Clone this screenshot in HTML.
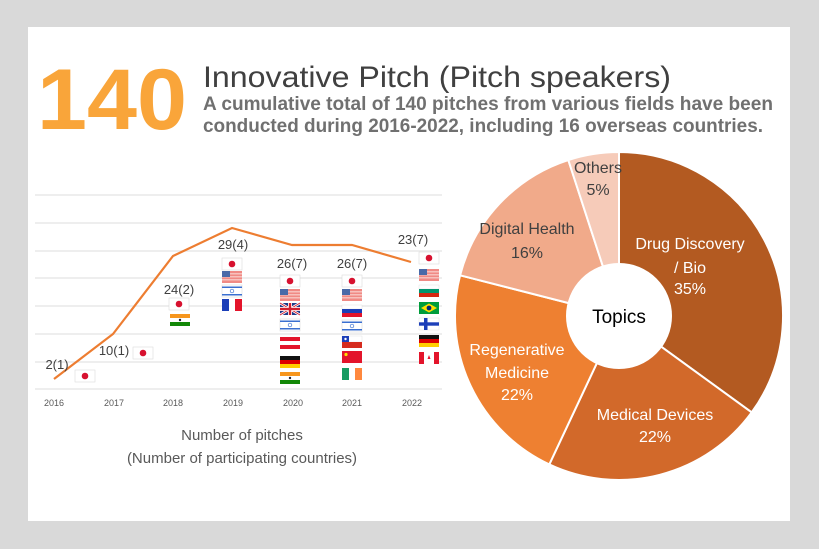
<!DOCTYPE html>
<html><head><meta charset="utf-8"><style>
html,body{margin:0;padding:0;background:#d9d9d9;}
svg{display:block;}
text{font-family:"Liberation Sans",sans-serif;}
</style></head><body>
<svg width="819" height="549" viewBox="0 0 819 549" xmlns="http://www.w3.org/2000/svg">
<rect x="0" y="0" width="819" height="549" fill="#d9d9d9"/>
<rect x="28" y="27" width="762" height="494" fill="#ffffff"/>
<text x="37" y="129" font-size="86" font-weight="bold" fill="#f9a53a" textLength="150" lengthAdjust="spacingAndGlyphs">140</text>
<text x="203" y="87" font-size="30" fill="#404040" textLength="468" lengthAdjust="spacingAndGlyphs">Innovative Pitch (Pitch speakers)</text>
<text x="203" y="110" font-size="19" font-weight="bold" fill="#707070" textLength="570" lengthAdjust="spacingAndGlyphs">A cumulative total of 140 pitches from various fields have been</text>
<text x="203" y="132" font-size="19" font-weight="bold" fill="#707070" textLength="560" lengthAdjust="spacingAndGlyphs">conducted during 2016-2022, including 16 overseas countries.</text>
<g stroke="#e8e8e8" stroke-width="1.5">
<line x1="35" y1="195" x2="442" y2="195"/><line x1="35" y1="223" x2="442" y2="223"/>
<line x1="35" y1="251" x2="442" y2="251"/><line x1="35" y1="278" x2="442" y2="278"/>
<line x1="35" y1="306" x2="442" y2="306"/><line x1="35" y1="334" x2="442" y2="334"/>
<line x1="35" y1="362" x2="442" y2="362"/><line x1="35" y1="389" x2="442" y2="389"/>
</g>
<polyline points="54,379 113,334 173,256 232,228 292,245 352,245 411,262" fill="none" stroke="#ed7d31" stroke-width="2.2"/>
<g font-size="9" fill="#595959" text-anchor="middle">
<text x="54" y="406">2016</text><text x="114" y="406">2017</text><text x="173" y="406">2018</text>
<text x="233" y="406">2019</text><text x="293" y="406">2020</text><text x="352" y="406">2021</text><text x="412" y="406">2022</text>
</g>
<g font-size="13" fill="#404040" text-anchor="middle">
<text x="57" y="369">2(1)</text><text x="114" y="355">10(1)</text><text x="179" y="294">24(2)</text>
<text x="233" y="249">29(4)</text><text x="292" y="268">26(7)</text><text x="352" y="268">26(7)</text><text x="413" y="244">23(7)</text>
</g>
<defs>
<g id="jp"><rect width="20" height="12" fill="#fff" stroke="#ddd" stroke-width="0.6"/><circle cx="10" cy="6" r="3.3" fill="#d7112f"/></g>
<g id="us"><rect width="20" height="12" fill="#f08a85"/><rect y="2" width="20" height="1.5" fill="#f7c1bd"/><rect y="5" width="20" height="1.5" fill="#f7c1bd"/><rect y="8" width="20" height="1.5" fill="#f7c1bd"/><rect width="8" height="6" fill="#4a6aa8"/></g>
<g id="il"><rect width="20" height="12" fill="#fff" stroke="#ddd" stroke-width="0.6"/><rect y="1.5" width="20" height="1.5" fill="#3a6fd0"/><rect y="9" width="20" height="1.5" fill="#3a6fd0"/><circle cx="10" cy="6" r="1.8" fill="none" stroke="#3a6fd0" stroke-width="0.7"/></g>
<g id="in"><rect width="20" height="4" fill="#f7961e"/><rect y="4" width="20" height="4" fill="#fff"/><rect y="8" width="20" height="4" fill="#138808"/><circle cx="10" cy="6" r="1.2" fill="#223"/></g>
<g id="fr"><rect width="7" height="12" fill="#1c3fb8"/><rect x="7" width="6" height="12" fill="#fff"/><rect x="13" width="7" height="12" fill="#e3142b"/></g>
<g id="gb"><rect width="20" height="12" fill="#1d3a8a"/><path d="M0,0L20,12M20,0L0,12" stroke="#fff" stroke-width="2.5"/><path d="M0,0L20,12M20,0L0,12" stroke="#d01f2f" stroke-width="0.9"/><rect x="8" width="4" height="12" fill="#fff"/><rect y="4" width="20" height="4" fill="#fff"/><rect x="8.8" width="2.4" height="12" fill="#d01f2f"/><rect y="4.8" width="20" height="2.4" fill="#d01f2f"/></g>
<g id="at"><rect width="20" height="12" fill="#e3142b"/><rect y="4" width="20" height="4" fill="#fff"/></g>
<g id="de"><rect width="20" height="4" fill="#111"/><rect y="4" width="20" height="4" fill="#dd0000"/><rect y="8" width="20" height="4" fill="#ffce00"/></g>
<g id="ru"><rect width="20" height="4" fill="#fff" stroke="#ddd" stroke-width="0.4"/><rect y="4" width="20" height="4" fill="#1c3fb8"/><rect y="8" width="20" height="4" fill="#e3142b"/></g>
<g id="cl"><rect width="20" height="6" fill="#fff" stroke="#ddd" stroke-width="0.4"/><rect y="6" width="20" height="6" fill="#d52b1e"/><rect width="7" height="6" fill="#1c3fb8"/><circle cx="3.5" cy="3" r="1.2" fill="#fff"/></g>
<g id="cn"><rect width="20" height="12" fill="#e3142b"/><circle cx="4" cy="3.5" r="1.6" fill="#ffde00"/></g>
<g id="ie"><rect width="7" height="12" fill="#169b62"/><rect x="7" width="6" height="12" fill="#fff"/><rect x="13" width="7" height="12" fill="#ff883e"/></g>
<g id="bg"><rect width="20" height="4" fill="#fff" stroke="#ddd" stroke-width="0.4"/><rect y="4" width="20" height="4" fill="#00966e"/><rect y="8" width="20" height="4" fill="#d62612"/></g>
<g id="br"><rect width="20" height="12" fill="#009c3b"/><path d="M10,1.5L18,6L10,10.5L2,6Z" fill="#ffdf00"/><circle cx="10" cy="6" r="2.4" fill="#002776"/></g>
<g id="fi"><rect width="20" height="12" fill="#fff" stroke="#ddd" stroke-width="0.4"/><rect x="5" width="3.5" height="12" fill="#1c3fb8"/><rect y="4.3" width="20" height="3.4" fill="#1c3fb8"/></g>
<g id="ca"><rect width="20" height="12" fill="#fff"/><rect width="5" height="12" fill="#e3142b"/><rect x="15" width="5" height="12" fill="#e3142b"/><path d="M10,3L11.5,7L8.5,7Z" fill="#e3142b"/></g>
</defs>
<use href="#jp" x="75" y="370"/>
<use href="#jp" x="133" y="347"/>
<use href="#jp" x="169" y="298"/><use href="#in" x="170" y="314"/>
<use href="#jp" x="222" y="258"/><use href="#us" x="222" y="271"/><use href="#il" x="222" y="285"/><use href="#fr" x="222" y="299"/>
<use href="#jp" x="280" y="275"/><use href="#us" x="280" y="289"/><use href="#gb" x="280" y="303"/><use href="#il" x="280" y="319"/><use href="#at" x="280" y="337"/><use href="#de" x="280" y="356"/><use href="#in" x="280" y="372"/>
<use href="#jp" x="342" y="275"/><use href="#us" x="342" y="289"/><use href="#ru" x="342" y="305"/><use href="#il" x="342" y="320"/><use href="#cl" x="342" y="336"/><use href="#cn" x="342" y="351"/><use href="#ie" x="342" y="368"/>
<use href="#jp" x="419" y="252"/><use href="#us" x="419" y="269"/><use href="#bg" x="419" y="285"/><use href="#br" x="419" y="302"/><use href="#fi" x="419" y="318"/><use href="#de" x="419" y="335"/><use href="#ca" x="419" y="352"/>
<g font-size="15" fill="#595959" text-anchor="middle">
<text x="242" y="440">Number of pitches</text>
<text x="242" y="463">(Number of participating countries)</text>
</g>
<!-- pie center 619,316 r 164 -->
<g stroke="#fff" stroke-width="2">
<path d="M619,316 L619,152 A164,164 0 0 1 751.7,412.4 Z" fill="#b35a21"/>
<path d="M619,316 L751.7,412.4 A164,164 0 0 1 549.3,464.4 Z" fill="#d2692a"/>
<path d="M619,316 L549.3,464.4 A164,164 0 0 1 460.1,275.3 Z" fill="#ee8031"/>
<path d="M619,316 L460.1,275.3 A164,164 0 0 1 568.3,160.0 Z" fill="#f1aa8a"/>
<path d="M619,316 L568.3,160.0 A164,164 0 0 1 619,152 Z" fill="#f6cbb9"/>
</g>
<circle cx="619" cy="316" r="53" fill="#fff"/>
<g font-size="16" fill="#fff" text-anchor="middle">
<text x="690" y="249">Drug Discovery</text><text x="690" y="273">/ Bio</text><text x="690" y="294">35%</text>
<text x="655" y="420">Medical Devices</text><text x="655" y="442">22%</text>
<text x="517" y="355">Regenerative</text><text x="517" y="378">Medicine</text><text x="517" y="400">22%</text>
</g>
<g font-size="16" fill="#404040" text-anchor="middle">
<text x="527" y="234">Digital Health</text><text x="527" y="258">16%</text>
<text x="598" y="173">Others</text><text x="598" y="195">5%</text>
<text x="619" y="323" font-size="19" fill="#000">Topics</text>
</g>
</svg>
</body></html>
